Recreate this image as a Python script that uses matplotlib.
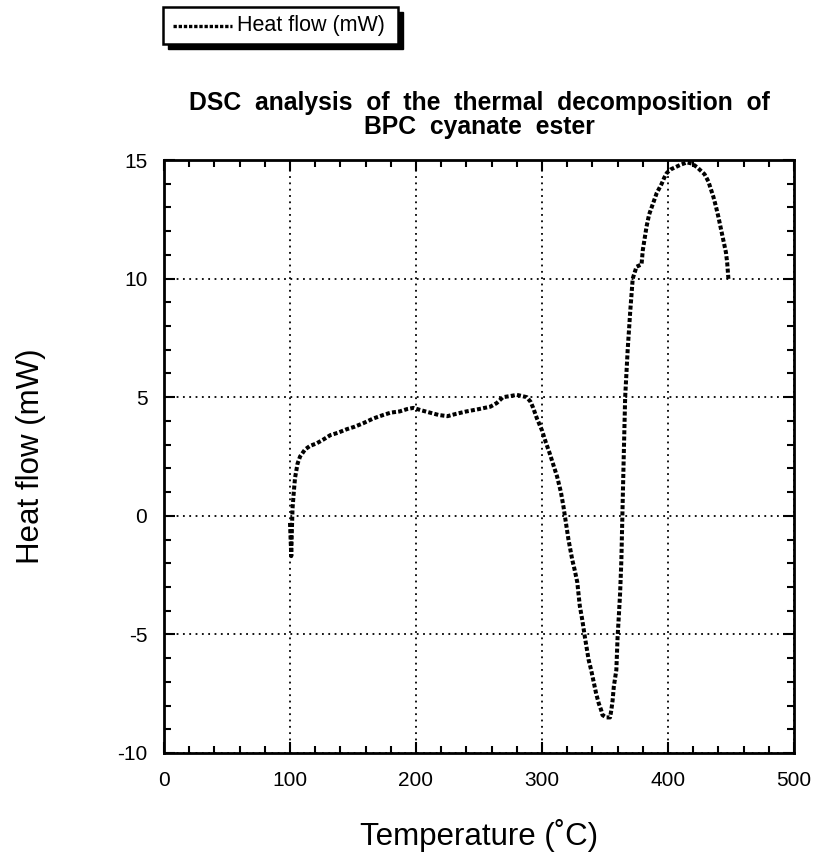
import matplotlib
matplotlib.use("Agg")
import matplotlib.pyplot as plt
from matplotlib.ticker import MultipleLocator
from matplotlib.patches import Rectangle
from matplotlib.lines import Line2D

plt.rcParams['font.family'] = ['Liberation Sans', 'DejaVu Sans']
plt.rcParams['axes.unicode_minus'] = False

title = "DSC  analysis  of  the  thermal  decomposition  of\nBPC  cyanate  ester"
xlabel = "Temperature (˚C)"
ylabel = "Heat flow (mW)"
series_name = "Heat flow (mW)"

temperature = [100, 100.5, 101, 101.5, 102, 103, 104, 106, 108, 112, 116, 121, 126,
               132, 138, 145, 151, 158, 166, 174, 180, 187, 193, 198, 204, 211, 218,
               225, 232, 240, 250, 259, 264, 269, 275, 280, 284, 288, 291, 293, 296,
               300, 303, 306, 309, 312, 315, 317, 319, 321, 324, 326, 328, 330, 332,
               334, 337, 339, 341, 343, 345, 347, 348, 351, 354, 355, 356, 357, 359,
               360, 361, 362, 363, 364, 365, 366, 368, 370, 372, 375, 379, 380, 383,
               385, 387, 389, 391, 393, 395, 397, 399, 402, 406, 410, 415, 419, 423,
               426, 429, 432, 436, 438, 440, 442, 444, 446, 447, 448]
heat_flow = [-0.3, -1.0, -1.7, -0.6, 0.3, 1.0, 1.6, 2.2, 2.5, 2.8, 2.95, 3.05, 3.2,
             3.4, 3.5, 3.65, 3.75, 3.9, 4.1, 4.25, 4.35, 4.4, 4.5, 4.55, 4.45, 4.35, 4.25,
             4.2, 4.3, 4.4, 4.5, 4.6, 4.75, 5.0, 5.05, 5.1, 5.05, 5.0, 4.8, 4.55, 4.1,
             3.6, 3.1, 2.65, 2.15, 1.65, 1.0, 0.4, -0.3, -1.0, -1.85, -2.3, -2.8, -3.8, -4.4,
             -5.1, -6.07, -6.5, -7.0, -7.5, -7.9, -8.2, -8.4, -8.5, -8.5, -8.2, -7.8, -7.2, -6.5,
             -5.1, -4.2, -3.25, -1.85, 0.5, 2.8, 5.0, 7.0, 8.6, 10.0, 10.5, 10.6, 11.2, 12.2,
             12.7, 13.0, 13.3, 13.6, 13.8, 14.0, 14.25, 14.45, 14.6, 14.7, 14.8, 14.9, 14.85, 14.7,
             14.55, 14.4, 14.1, 13.45, 13.05, 12.6, 12.1, 11.6, 11.1, 10.65, 9.95]

x_ticks = [0, 100, 200, 300, 400, 500]
y_ticks = [-10, -5, 0, 5, 10, 15]

fig = plt.figure(figsize=(8.2, 8.59), dpi=100)
ax = fig.add_axes([164/820, 1-753/859, (794-164)/820, (753-160)/859])

ax.plot(temperature, heat_flow, color='black', lw=2.9,
        linestyle=(0, (1.0, 0.55)), dash_capstyle='butt', zorder=3)

ax.set_xlim(0, 500)
ax.set_ylim(-10, 15)
ax.set_xticks(x_ticks)
ax.set_yticks(y_ticks)
ax.xaxis.set_minor_locator(MultipleLocator(20))
ax.yaxis.set_minor_locator(MultipleLocator(1))
ax.tick_params(which='both', direction='in', top=True, right=True, width=1.5,
               labelsize=15, color='black')
ax.tick_params(which='major', length=8)
ax.tick_params(which='minor', length=5)
ax.tick_params(axis='x', which='major', pad=13)
ax.tick_params(axis='y', which='major', pad=12)
for s in ax.spines.values():
    s.set_linewidth(2)
ax.grid(True, which='major', color='black', linestyle=(0, (1, 2.5)), lw=1.3)

ax.set_title(title, fontsize=17.8, fontweight='bold', pad=19, linespacing=0.98)
ax.set_xlabel(xlabel, fontsize=22.5, labelpad=21)
ax.set_ylabel(ylabel, fontsize=22.5, labelpad=51)

# legend box with black drop shadow
x0, y0, w, h = 163/820, 1-44/859, 235/820, 37/859
dx, dy = 5/820, -5/859
fig.patches.append(Rectangle((x0+dx, y0+dy), w, h, transform=fig.transFigure,
                             facecolor='black', edgecolor='black', zorder=1))
fig.patches.append(Rectangle((x0, y0), w, h, transform=fig.transFigure,
                             facecolor='white', edgecolor='black', lw=1.8, zorder=2))
fig.lines.append(Line2D([173/820, 232/820], [1-26/859, 1-26/859], transform=fig.transFigure,
                        color='black', lw=2.4, linestyle=(0, (1.0, 0.55)),
                        dash_capstyle='butt', zorder=3))
fig.text(237/820, 1-26/859, series_name, fontsize=15.5, va='center', ha='left', zorder=4)

fig.savefig("out.png", dpi=100)
